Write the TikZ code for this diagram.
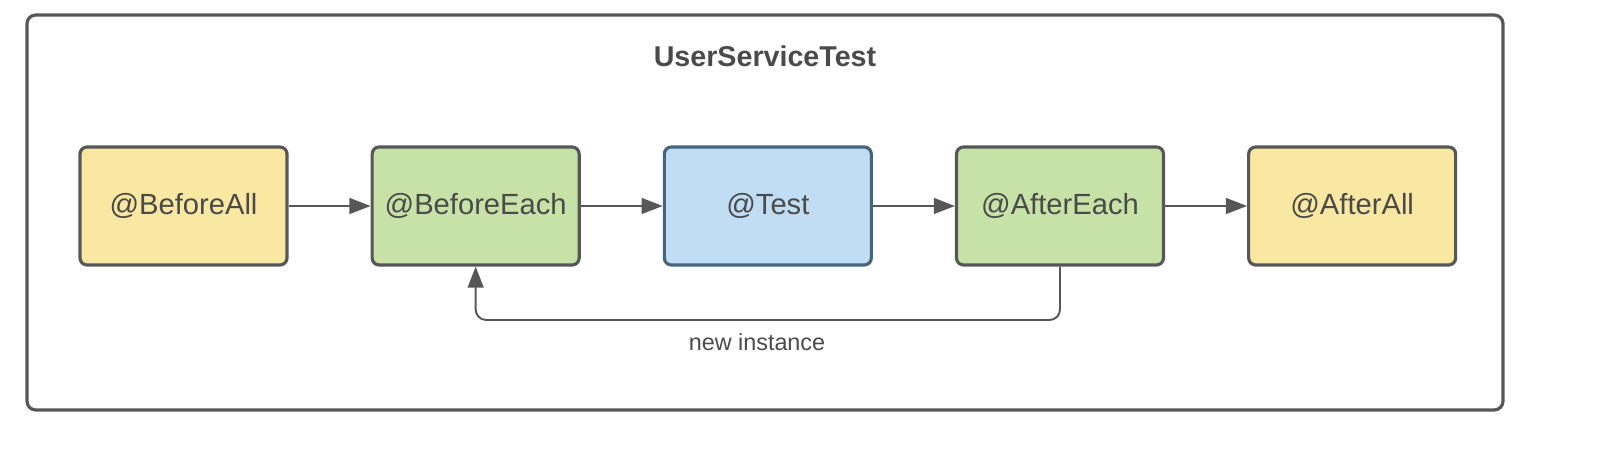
\documentclass[tikz,border=0pt]{standalone}
\usepackage{fontspec}
\setmainfont{Liberation Sans}
\usetikzlibrary{positioning,arrows.meta}

\definecolor{lineGray}{HTML}{575757}
\definecolor{allYellow}{HTML}{F9E8A2}
\definecolor{eachGreen}{HTML}{C6E2A6}
\definecolor{testBlue}{HTML}{C0DDF3}
\definecolor{testEdge}{HTML}{45657F}

\begin{document}
\begin{tikzpicture}[every node/.style={font=\fontsize{16.6}{19}\selectfont, text=lineGray!85!black},
    phase/.style={draw=lineGray, line width=1.8pt, rounded corners=4pt,
        minimum width=4.14cm, minimum height=2.36cm, inner sep=0pt},
    flow/.style={-{Triangle[length=12pt,width=9pt]}, line width=1.1pt, draw=lineGray}]
            \useasboundingbox (0,0) rectangle (32.32,9.18);
            \draw[lineGray, line width=1.8pt, rounded corners=5pt] (0.54,0.98) rectangle (30.06,8.88);
            \node[font=\fontsize{16.3}{19}\selectfont\bfseries] (title) at (15.3,8.06) {UserServiceTest};
            \node[phase, fill=allYellow] (beforeAll) at (3.67,5.06) {@BeforeAll};
            \node[phase, fill=eachGreen, right=1.64cm of beforeAll] (beforeEach) {@BeforeEach};
            \node[phase, fill=testBlue, draw=testEdge, right=1.64cm of beforeEach] (test) {@Test};
            \node[phase, fill=eachGreen, right=1.64cm of test] (afterEach) {@AfterEach};
            \node[phase, fill=allYellow, right=1.64cm of afterEach] (afterAll) {@AfterAll};
            \draw[flow] (beforeAll) -- (beforeEach);
            \draw[flow] (beforeEach) -- (test);
            \draw[flow] (test) -- (afterEach);
            \draw[flow] (afterEach) -- (afterAll);
            % loop back for every test
            \coordinate (loopY) at (0,2.78);
            \draw[flow, rounded corners=6pt] (afterEach.south) |- (loopY -| beforeEach.south) -- (beforeEach.south);
            \node[font=\fontsize{13.3}{16}\selectfont] (loopLabel) at (15.14,2.34) {new instance};
        \end{tikzpicture}
\end{document}
